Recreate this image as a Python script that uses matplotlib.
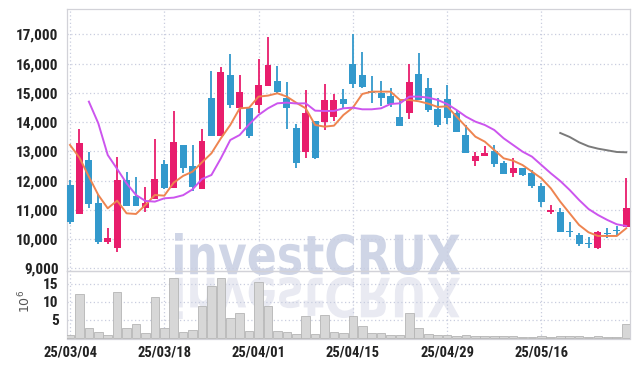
import numpy as np
import matplotlib
matplotlib.use("Agg")
import matplotlib.pyplot as plt
from matplotlib.textpath import TextPath
from matplotlib.patches import PathPatch
from matplotlib.font_manager import FontProperties
from matplotlib.transforms import Affine2D

# --- data (daily candles, 2025-03-04 .. 2025-05-29) ---
dates = ["03/04", "03/05", "03/06", "03/07", "03/10", "03/11", "03/12", "03/13", "03/14", "03/17",
         "03/18", "03/19", "03/20", "03/21", "03/24", "03/25", "03/26", "03/27", "03/28", "03/31",
         "04/01", "04/02", "04/03", "04/04", "04/07", "04/08", "04/09", "04/10", "04/11", "04/14",
         "04/15", "04/16", "04/17", "04/18", "04/21", "04/22", "04/23", "04/24", "04/25", "04/28",
         "04/29", "04/30", "05/02", "05/07", "05/08", "05/09", "05/12", "05/13", "05/14", "05/15",
         "05/16", "05/19", "05/20", "05/21", "05/22", "05/23", "05/26", "05/27", "05/28", "05/29"]

opens = [11850, 10870, 12700, 11230, 9910, 9690, 12020, 11460, 11070, 11360,
         12570, 11760, 13220, 12500, 11710, 14820, 13540, 15610, 14490, 14480,
         14580, 15230, 15400, 14810, 13810, 12990, 14040, 14010, 14190, 14790,
         15990, 15610, 15060, 14990, 14890, 14160, 14300, 15630, 15165, 14450,
         14790, 14300, 13560, 12680, 12850, 13010, 12610, 12270, 12420, 12250,
         11815, 10920, 10930, 10270, 10140, 9880, 9685, 10220, 10310, 10400]
highs = [12020, 13775, 12990, 11530, 10370, 12820, 12290, 12110, 11790, 13430,
         12700, 14390, 13220, 13200, 13775, 15735, 15870, 16320, 15620, 14480,
         16150, 16900, 15920, 15380, 13950, 15085, 14040, 15290, 14970, 15120,
         17010, 16385, 15590, 15400, 15180, 14750, 15970, 16350, 15510, 14830,
         15270, 14380, 13900, 12980, 13190, 13215, 12670, 12780, 12420, 12350,
         11900, 11150, 11060, 10570, 10210, 10060, 10275, 10390, 10435, 12100]
lows = [10500, 10850, 11070, 9820, 9820, 9550, 11140, 11140, 10920, 11360,
        11700, 11740, 12250, 11650, 11700, 13540, 13540, 14490, 13760, 13440,
        14300, 15230, 14950, 13760, 12440, 12780, 12720, 13720, 14030, 14450,
        15150, 15150, 14640, 14550, 14530, 13870, 14090, 14740, 14360, 13840,
        13950, 13670, 12950, 12500, 12850, 12480, 12210, 12110, 12170, 11760,
        11110, 10860, 10250, 10080, 9750, 9710, 9660, 10030, 10140, 10400]
closes = [10600, 13285, 11200, 9910, 10040, 12020, 11140, 11140, 11230, 12050,
          11760, 13320, 12440, 11780, 13350, 13540, 15710, 14580, 15030, 13510,
          15260, 15950, 15040, 14490, 12610, 14310, 12780, 14740, 14740, 14620,
          15310, 15200, 14990, 14830, 14620, 13880, 15360, 14750, 14410, 13900,
          14150, 13670, 12950, 12830, 12950, 12580, 12240, 12440, 12190, 11830,
          11260, 10990, 10250, 10230, 9840, 9845, 10230, 10180, 10265, 11060]

volume = [0.8, 12.1, 2.6, 1.5, 0.7, 12.6, 2.6, 3.7, 1.2, 11.3,
          2.7, 16.6, 1.5, 2.0, 8.7, 14.4, 16.6, 5.4, 6.9, 1.8,
          15.5, 8.7, 1.9, 1.5, 0.9, 5.9, 0.9, 6.2, 1.5, 1.2,
          5.9, 3.2, 1.2, 1.2, 0.65, 0.65, 6.8, 2.6, 1.0, 0.7,
          0.7, 0.45, 0.65, 0.45, 0.45, 0.45, 0.45, 0.45, 0.3, 0.2,
          0.45, 0.2, 0.45, 0.45, 0.35, 0.2, 0.45, 0.2, 0.2, 3.7]

ma_short = [13217, 12783, 12134, 11507, 11051, 11313, 10880, 10858, 11165, 11507,
            11484, 11929, 12160, 12305, 12624, 12932, 13444, 13900, 14470, 14493,
            14870, 14904, 14983, 14870, 14660, 14470, 13900, 13843, 13877, 14242,
            14493, 14960, 15040, 15040, 15040, 14755, 14755, 14710, 14630, 14516,
            14539, 14185, 13843, 13500, 13330, 13045, 12760, 12680, 12530, 12305,
            12077, 11735, 11280, 10880, 10481, 10231, 10106, 10106, 10106, 10368]
ma_mid = [None, None, 14698, 13957, 12875, 12396, 11906, 11507, 11302, 11280,
          11393, 11416, 11500, 11700, 12054, 12190, 12760, 13387, 13558, 13923,
          14242, 14470, 14641, 14664, 14635, 14641, 14390, 14379, 14379, 14470,
          14493, 14436, 14436, 14470, 14618, 14641, 14870, 14870, 14835, 14755,
          14618, 14413, 14185, 14014, 13900, 13729, 13444, 13216, 12989, 12818,
          12533, 12248, 11986, 11678, 11336, 11028, 10823, 10652, 10504, 10447]
ma_long = [None] * 52 + [13627, 13490, 13308, 13171, 13091, 13034, 12977, 12966]

price_ticks = [9000, 10000, 11000, 12000, 13000, 14000, 15000, 16000, 17000]
vol_ticks = [5, 10, 15]
tick_every = 10

UP = "#e81d6c"
DOWN = "#3399cc"
GRID = "#c9cddf"
FONT = ["Roboto Condensed", "Roboto", "DejaVu Sans"]

fig = plt.figure(figsize=(6.39, 3.66), dpi=100)
W, H = 639, 366

# watermark + its reflection, in pixel coords behind the (transparent) axes
tp = TextPath((0, 0), "investCRUX", size=100,
              prop=FontProperties(family="DejaVu Sans", weight="bold"))
bb = tp.get_extents()
x0, x1, top, base = 175, 460, 233, 275
sx = (x1 - x0) / bb.width
sy = (base - top) / bb.height
wm = PathPatch(tp, transform=Affine2D().translate(-bb.x0, -bb.y0).scale(sx, sy).translate(x0, H - base),
               facecolor="#cfd5e6", edgecolor="none", zorder=-2)
refl = PathPatch(tp, transform=Affine2D().translate(-bb.x0, -bb.y0).scale(sx, -sy).translate(x0, H - base - 2),
                 facecolor="#e9eaf2", edgecolor="none", zorder=-3)
fig.patches.extend([wm, refl])

left, right = 67 / W, 630 / W
ax = fig.add_axes([left, 1 - 271 / H, right - left, (271 - 9.3) / H])
axv = fig.add_axes([left, 1 - 338.5 / H, right - left, (338.5 - 271) / H], sharex=ax)
for a in (ax, axv):
    a.set_facecolor("none")
    for s in a.spines.values():
        s.set_color("#d2d2d8")
        s.set_linewidth(0.9)

idx = np.arange(len(dates))
o = np.array(opens)
c = np.array(closes)
up = c >= o
colors = [UP if u else DOWN for u in up]
bottoms = np.minimum(o, c)
heights = np.maximum(np.abs(c - o), 35)

ax.vlines(idx, lows, highs, colors=colors, linewidth=1.3, zorder=3)
ax.bar(idx, heights, bottom=bottoms, width=0.74, color=colors, zorder=4)

ax.plot(idx, ma_short, color="#ee8450", lw=1.4, zorder=5)
ax.plot(idx, [np.nan if v is None else v for v in ma_mid], color="#cc55ee", lw=1.4, zorder=5)
ax.plot(idx, [np.nan if v is None else v for v in ma_long], color="#7a7a7a", lw=1.4, zorder=5)

ax.set_xlim(-0.32, 59.4)
ax.set_ylim(8908, 17855)
ax.set_yticks(price_ticks)
ax.set_yticklabels([f"{v:,}" for v in price_ticks], fontfamily=FONT, fontweight="bold",
                   fontsize=11, color="#222222")
ax.grid(True, color=GRID, linestyle=(0, (1, 2)), linewidth=0.9)
ax.tick_params(axis="both", length=0, pad=6)
ax.tick_params(axis="x", labelbottom=False)

axv.bar(idx, volume, width=0.92, color="#d7d7d7", edgecolor="#b5b5b5", linewidth=0.6, zorder=3)
axv.set_ylim(-0.25, 18.6)
axv.set_yticks(vol_ticks)
axv.set_yticklabels([str(v) for v in vol_ticks], fontfamily=FONT, fontweight="bold",
                    fontsize=11, color="#222222")
axv.set_ylabel(r"$10^6$", fontsize=9, color="#555555")
axv.yaxis.set_label_coords(-0.06, 0.55)
axv.grid(True, color=GRID, linestyle=(0, (1, 2)), linewidth=0.9)
axv.tick_params(axis="both", length=0, pad=6)

tick_pos = idx[::tick_every]
axv.set_xticks(tick_pos)
axv.set_xticklabels(["25/" + dates[i] for i in tick_pos], fontfamily=FONT, fontweight="bold",
                    fontsize=10.5, color="#222222")
axv.tick_params(axis="x", pad=5)

fig.savefig("out.png", dpi=100)
